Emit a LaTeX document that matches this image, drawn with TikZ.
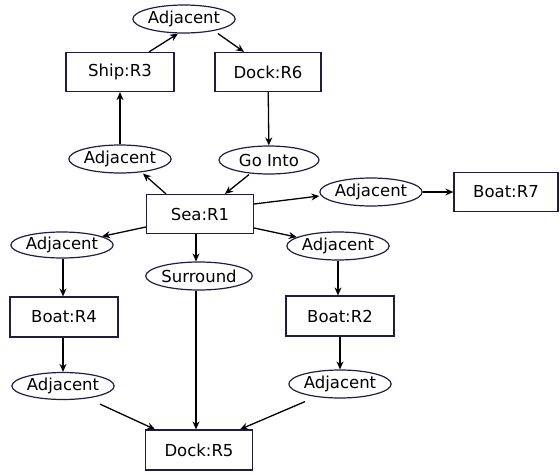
\documentclass[tikz,border=0pt]{standalone}
\usepackage{fontspec}
\setmainfont{DejaVu Sans}
\usetikzlibrary{arrows.meta, shapes.geometric}

\definecolor{navy}{HTML}{1F1D45}

\begin{document}
\begin{tikzpicture}[
  x=1pt, y=-1pt,
  every node/.style={font=\fontsize{16.5}{19}\selectfont},
  box/.style={draw=navy, line width=1.2pt, minimum width=107pt, minimum height=39pt, inner sep=0pt},
  rel/.style={draw=navy, line width=1.2pt, ellipse, minimum width=100pt, minimum height=28pt, inner sep=0pt},
  arrow/.style={-{Stealth[length=8pt, width=7pt]}, line width=1.3pt}
  ]
\useasboundingbox (0,0) rectangle (560,474);

% Nodes
\node[rel] (adjtop) at (184,19) {Adjacent};
\node[box, minimum width=108pt] (ship) at (120,72) {Ship:R3};
\node[box, minimum width=106pt] (dock6) at (268,72) {Dock:R6};
\node[rel] (adjship) at (120,159) {Adjacent};
\node[rel] (gointo) at (269,160) {Go Into};
\node[box] (sea) at (200,214) {Sea:R1};
\node[rel] (adjboat7) at (371,192) {Adjacent};
\node[box, minimum width=104pt] (boat7) at (506,192) {Boat:R7};
\node[rel, minimum height=26pt] (adjboat4) at (62,245) {Adjacent};
\node[rel, minimum width=98pt] (surround) at (199,276) {Surround};
\node[rel] (adjboat2) at (338,246) {Adjacent};
\node[box, minimum width=108pt, minimum height=40pt] (boat4) at (64,317) {Boat:R4};
\node[box, minimum width=108pt, minimum height=40pt] (boat2) at (340,316) {Boat:R2};
\node[rel, minimum height=27pt] (adjdock4) at (63,386) {Adjacent};
\node[rel] (adjdock2) at (340,384) {Adjacent};
\node[box, minimum height=40pt] (dock5) at (199,450) {Dock:R5};

% Arrows
\draw[arrow] ([xshift=29pt]ship.north) -- ([xshift=-6pt]adjtop.south);
\draw[arrow] ([xshift=34pt]adjtop.south) -- ([xshift=-24pt]dock6.north);
\draw[arrow] (adjship) -- (ship);
\draw[arrow] (dock6) -- (gointo);
\draw[arrow] ([xshift=-34pt]sea.north) -- ([xshift=23pt]adjship.south);
\draw[arrow] ([xshift=-20pt]gointo.south) -- ([xshift=25pt]sea.north);
\draw[arrow] ([yshift=10pt]sea.east) -- ([yshift=-4pt]adjboat7.west);
\draw[arrow] (adjboat7) -- (boat7);
\draw[arrow] ([yshift=-13pt]sea.west) -- (adjboat4);
\draw[arrow] ([xshift=-4pt]sea.south) -- ([xshift=-3pt]surround.north);
\draw[arrow] ([yshift=-14pt]sea.east) -- (adjboat2);
\draw[arrow] ([xshift=1pt]adjboat4.south) -- ([xshift=-1pt]boat4.north);
\draw[arrow] (adjboat2.south) -- (boat2.north -| adjboat2.south);
\draw[arrow] ([xshift=-1pt]boat4.south) -- (adjdock4);
\draw[arrow] (boat2) -- (adjdock2);
\draw[arrow] ([xshift=37pt, yshift=-4pt]adjdock4.south) -- ([xshift=-44pt]dock5.north);
\draw[arrow] ([xshift=-3pt]surround.south) -- ([xshift=-3pt]dock5.north);
\draw[arrow] ([xshift=-35pt, yshift=-3pt]adjdock2.south) -- ([xshift=41pt]dock5.north);

\end{tikzpicture}
\end{document}
